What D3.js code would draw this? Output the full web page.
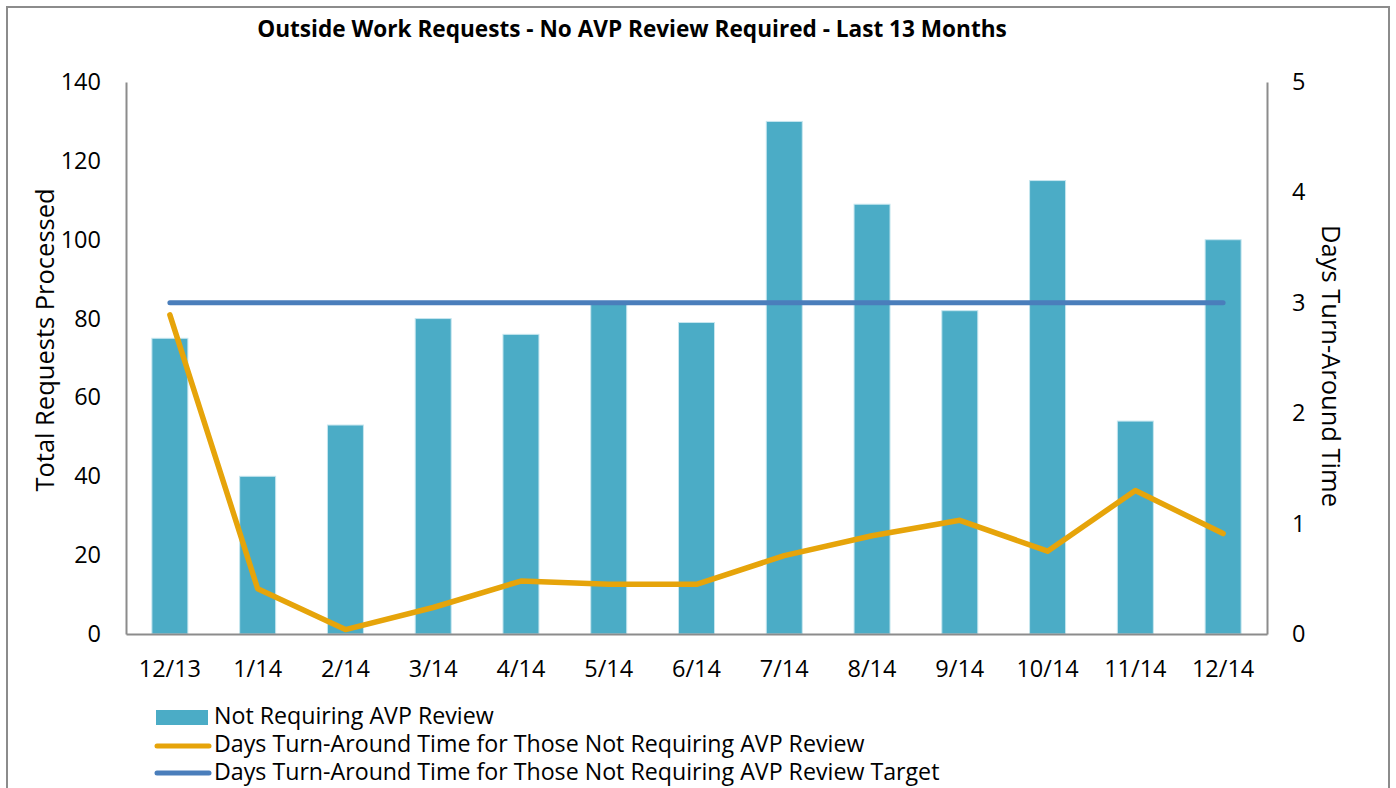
<!DOCTYPE html>
<html>
<head>
<meta charset="utf-8">
<script src="https://cdn.jsdelivr.net/npm/d3@7"></script>
<style>
  body { margin: 0; background: #fff; }
  svg text { font-family: "Open Sans", "Noto Sans", sans-serif; fill: #000; }
</style>
</head>
<body>
<svg id="svg" width="1396" height="788"></svg>
<script>
// データ
const months = ["12/13", "1/14", "2/14", "3/14", "4/14", "5/14", "6/14", "7/14", "8/14", "9/14", "10/14", "11/14", "12/14"];
const requests = [75, 40, 53, 80, 76, 84, 79, 130, 109, 82, 115, 54, 100];
const turnDays = [2.89, 0.41, 0.04, 0.24, 0.48, 0.45, 0.45, 0.71, 0.89, 1.03, 0.75, 1.30, 0.91];
const targetDays = [3, 3, 3, 3, 3, 3, 3, 3, 3, 3, 3, 3, 3];
const leftTicks = [0, 20, 40, 60, 80, 100, 120, 140];
const rightTicks = [0, 1, 2, 3, 4, 5];
const legendNames = [
  "Not Requiring AVP Review",
  "Days Turn-Around Time for Those Not Requiring AVP Review",
  "Days Turn-Around Time for Those Not Requiring AVP Review Target"
];

const svg = d3.select("#svg");
const plotLeft = 126, plotRight = 1267, plotTop = 82, plotBottom = 634;

// 外枠
svg.append("rect")
  .attr("x", 7).attr("y", 7)
  .attr("width", 1382).attr("height", 800)
  .attr("fill", "none").attr("stroke", "#8c8c8c").attr("stroke-width", 2);

// タイトル
svg.append("text")
  .attr("x", 632).attr("y", 37)
  .attr("text-anchor", "middle")
  .attr("font-weight", "bold")
  .attr("font-size", 22.6)
  .text("Outside Work Requests - No AVP Review Required - Last 13 Months");

// スケール
const x = d3.scaleBand().domain(months).range([plotLeft, plotRight]).paddingInner(0.59).paddingOuter(0.295);
const yL = d3.scaleLinear().domain([0, 140]).range([plotBottom, plotTop]);
const yR = d3.scaleLinear().domain([0, 5]).range([plotBottom, plotTop]);
const cx = (m) => x(m) + x.bandwidth() / 2;

// 棒グラフ
svg.append("g").selectAll("rect")
  .data(months)
  .join("rect")
  .attr("x", (d) => x(d))
  .attr("y", (d, i) => yL(requests[i]))
  .attr("width", x.bandwidth())
  .attr("height", (d, i) => plotBottom - yL(requests[i]))
  .attr("fill", "#4bacc6")
  .attr("stroke", "#c6e6ef")
  .attr("stroke-width", 1);

// 軸
const axisL = svg.append("g").attr("transform", `translate(${plotLeft},0)`)
  .call(d3.axisLeft(yL).tickValues(leftTicks).tickSize(0).tickPadding(25));
const axisR = svg.append("g").attr("transform", `translate(${plotRight},0)`)
  .call(d3.axisRight(yR).tickValues(rightTicks).tickFormat(d3.format("d")).tickSize(0).tickPadding(25));
const axisB = svg.append("g").attr("transform", `translate(0,${plotBottom})`)
  .call(d3.axisBottom(x).tickSize(0).tickPadding(26));
[axisL, axisR, axisB].forEach((a) => {
  a.select(".domain").attr("stroke", "#8c8c8c").attr("stroke-width", 2);
  a.selectAll("text").attr("font-size", 23.5).attr("font-family", null);
});

// 線
const line = (vals) => d3.line().x((d, i) => cx(months[i])).y((d) => yR(d))(vals);
svg.append("path")
  .attr("d", line(targetDays))
  .attr("fill", "none").attr("stroke", "#4a7ebb")
  .attr("stroke-width", 5).attr("stroke-linecap", "round");
svg.append("path")
  .attr("d", line(turnDays))
  .attr("fill", "none").attr("stroke", "#e6a40a")
  .attr("stroke-width", 5.5).attr("stroke-linecap", "round").attr("stroke-linejoin", "round");

// 軸タイトル
svg.append("text")
  .attr("transform", "translate(54,340) rotate(-90)")
  .attr("text-anchor", "middle").attr("font-size", 25.5)
  .text("Total Requests  Processed");
svg.append("text")
  .attr("transform", "translate(1322,366) rotate(90)")
  .attr("text-anchor", "middle").attr("font-size", 25.5)
  .text("Days Turn-Around Time");

// 凡例
const lg = svg.append("g");
lg.append("rect").attr("x", 156).attr("y", 710).attr("width", 52).attr("height", 15).attr("fill", "#4bacc6");
lg.append("line").attr("x1", 157).attr("x2", 209).attr("y1", 746).attr("y2", 746)
  .attr("stroke", "#e6a40a").attr("stroke-width", 5).attr("stroke-linecap", "round");
lg.append("line").attr("x1", 157).attr("x2", 209).attr("y1", 773).attr("y2", 773)
  .attr("stroke", "#4a7ebb").attr("stroke-width", 5).attr("stroke-linecap", "round");
lg.selectAll("text")
  .data(legendNames)
  .join("text")
  .attr("x", 214)
  .attr("y", (d, i) => 724 + i * 28)
  .attr("font-size", 23.2)
  .text((d) => d);
</script>
</body>
</html>
